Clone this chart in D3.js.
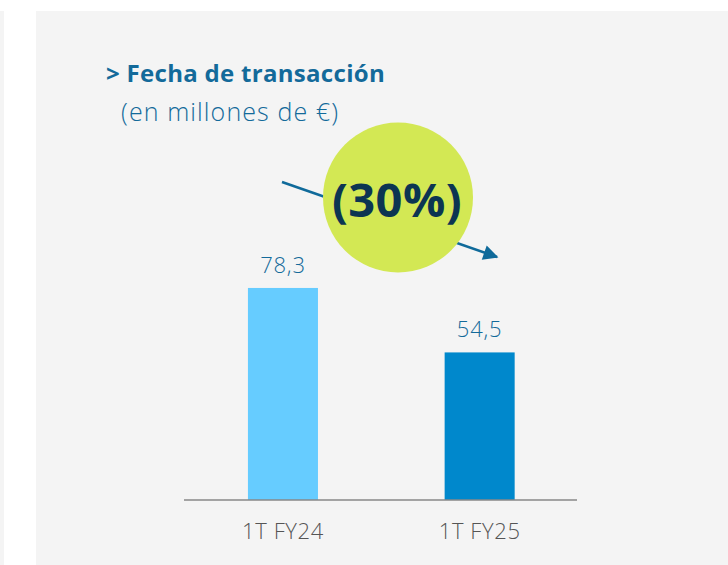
<!DOCTYPE html>
<html>
<head>
<meta charset="utf-8">
<script src="https://cdn.jsdelivr.net/npm/d3@7"></script>
<style>
  body { margin: 0; background: #fff; }
  svg { display: block; font-family: "Open Sans", Lato, sans-serif; }
</style>
</head>
<body>
<svg id="chart" width="728" height="565"></svg>
<script>
var categories = ['1T FY24', '1T FY25'];
var values = [78.3, 54.5];
var barColors = ['#66ccff', '#0088cc'];
var title = '> Fecha de transacción';
var subtitle = '(en millones de €)';
var changeLabel = '(30%)';

var svg = d3.select('#chart');
var fmt = function (v) { return d3.format('.1f')(v).replace('.', ','); };

// background panels
svg.append('rect').attr('x', 0).attr('y', 11).attr('width', 4).attr('height', 554).attr('fill', '#f4f4f4');
svg.append('rect').attr('x', 36).attr('y', 11).attr('width', 692).attr('height', 554).attr('fill', '#f4f4f4');

var baseY = 500;
var x = d3.scaleBand().domain(categories).range([184.8, 577.8]).paddingInner(0.644).paddingOuter(0.321);
var y = d3.scaleLinear().domain([0, 100]).range([baseY, baseY - 270.8]);

// titles
svg.append('text')
    .attr('x', 106).attr('y', 82)
    .text(title)
    .style('font-size', '24px')
    .style('font-weight', 'bold')
    .style('letter-spacing', '0.3px')
    .style('fill', '#136a9a');

svg.append('text')
    .attr('x', 121).attr('y', 121)
    .text(subtitle)
    .style('font-size', '25px')
    .style('font-weight', 300)
    .style('letter-spacing', '1.1px')
    .style('fill', '#136a9a');

// bars
svg.append('g').selectAll('rect')
    .data(values)
    .enter()
    .append('rect')
    .attr('x', function (d, i) { return x(categories[i]); })
    .attr('y', function (d) { return y(d); })
    .attr('width', x.bandwidth())
    .attr('height', function (d) { return baseY - y(d); })
    .attr('fill', function (d, i) { return barColors[i]; });

// value labels
svg.append('g').selectAll('text')
    .data(values)
    .enter()
    .append('text')
    .attr('x', function (d, i) { return x(categories[i]) + x.bandwidth() / 2; })
    .attr('y', function (d) { return y(d) - 15; })
    .attr('text-anchor', 'middle')
    .text(fmt)
    .style('font-size', '22px')
    .style('font-weight', 300)
    .style('letter-spacing', '0.8px')
    .style('fill', '#136a9a');

// axis
var axis = svg.append('g')
    .attr('transform', 'translate(0,' + baseY + ')')
    .call(d3.axisBottom(x).tickSize(0).tickPadding(23));
axis.select('.domain').attr('stroke', '#888').attr('stroke-width', 1.5).attr('d', 'M184,0H577');
axis.selectAll('text')
    .style('font-family', '"Open Sans", Lato, sans-serif')
    .style('font-size', '22px')
    .style('font-weight', 300)
    .style('letter-spacing', '0.6px')
    .style('fill', '#555');

// trend arrow behind the badge
var defs = svg.append('defs');
defs.append('marker')
    .attr('id', 'arrowhead')
    .attr('viewBox', '0 0 10 10')
    .attr('refX', 9).attr('refY', 5)
    .attr('markerWidth', 7).attr('markerHeight', 6)
    .attr('markerUnits', 'strokeWidth')
    .attr('orient', 'auto')
    .append('path')
    .attr('d', 'M0,0L10,5L0,10Z')
    .attr('fill', '#0f6a9a');

svg.append('line')
    .attr('x1', 282).attr('y1', 182)
    .attr('x2', 497).attr('y2', 257)
    .attr('stroke', '#0f6a9a')
    .attr('stroke-width', 2.5)
    .attr('marker-end', 'url(#arrowhead)');

svg.append('circle')
    .attr('cx', 398).attr('cy', 197.5).attr('r', 75)
    .attr('fill', '#d3e854');

svg.append('text')
    .attr('x', 397).attr('y', 217)
    .attr('text-anchor', 'middle')
    .text(changeLabel)
    .style('font-size', '47px')
    .style('font-weight', 'bold')
    .style('letter-spacing', '0.4px')
    .style('fill', '#0c3552');
</script>
</body>
</html>
